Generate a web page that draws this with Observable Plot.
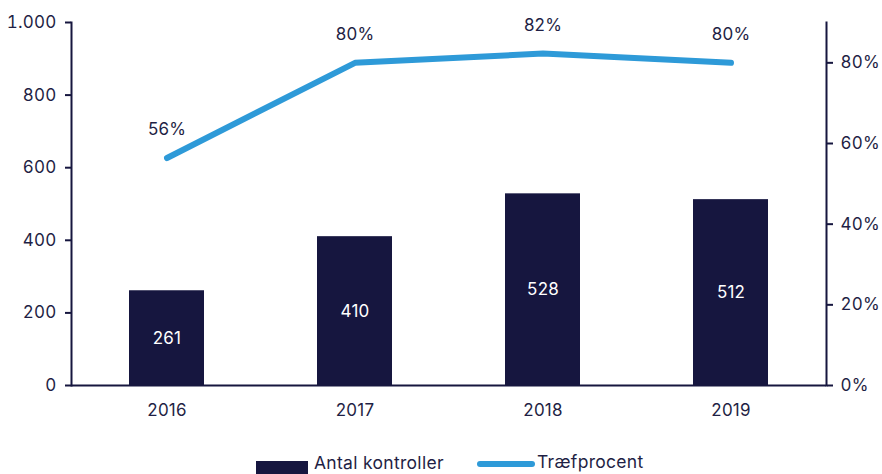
<!DOCTYPE html>
<html>
<head>
<meta charset="utf-8">
<script src="https://cdn.jsdelivr.net/npm/d3@7"></script>
<script src="https://cdn.jsdelivr.net/npm/@observablehq/plot@0.6"></script>
<style>
  html, body { margin: 0; padding: 0; background: #fff; }
  body { position: relative; width: 882px; height: 474px; overflow: hidden; font-family: Inter, "Noto Sans", sans-serif; color: #1f1f45; }
  #chart { position: absolute; left: 0; top: 0; }
  #legend { position: absolute; left: 0; top: 451px; width: 882px; height: 22px; font-size: 17.5px; letter-spacing: 0.3px; line-height: 22px; }
  .item { position: absolute; top: 0; display: flex; align-items: center; white-space: nowrap; }
  .sw-bar { width: 52px; height: 14px; background: #16163f; margin-right: 6px; margin-top: 10px; }
  .sw-line { width: 58px; height: 6px; border-radius: 3px; background: #2e9ad8; margin-right: 2px; margin-top: 4px; }
</style>
</head>
<body>
<div id="chart"></div>
<div id="legend"></div>
<script>
const years = ["2016", "2017", "2018", "2019"];
const kontroller = [261, 410, 528, 512];
const traefprocent = [0.564, 0.80, 0.823, 0.80];
const leftTicks = [0, 200, 400, 600, 800, 1000];
const rightTicks = [0, 0.2, 0.4, 0.6, 0.8];
const seriesNames = ["Antal kontroller", "Træfprocent"];

const leftMax = 1000, rightMax = 0.9;
const toLeft = v => v / rightMax * leftMax;

const barData = years.map((y, i) => ({year: y, value: kontroller[i]}));
const lineData = years.map((y, i) => ({year: y, pct: traefprocent[i], v: toLeft(traefprocent[i])}));

const navy = "#16163f";
const textCol = "#1f1f45";
const blue = "#2e9ad8";
const fmtThousand = d => d3.format(",")(d).replace(/,/g, ".");

const chart = Plot.plot({
  width: 882,
  height: 440,
  marginTop: 22,
  marginBottom: 55,
  marginLeft: 71,
  marginRight: 56,
  style: {fontFamily: "Inter, 'Noto Sans', sans-serif", fontSize: "17px", letterSpacing: "0.2px", color: textCol, background: "#fff"},
  x: {domain: years, paddingInner: 0.6, paddingOuter: 0.3, label: null},
  y: {domain: [0, leftMax], label: null},
  marks: [
    Plot.barY(barData, {x: "year", y: "value", fill: navy}),
    Plot.text(barData, {x: "year", y: d => d.value / 2, text: d => String(d.value), fill: "#ffffff", fontSize: 17}),
    Plot.line(lineData, {x: "year", y: "v", stroke: blue, strokeWidth: 6, strokeLinecap: "round", strokeLinejoin: "round"}),
    Plot.text(lineData, {x: "year", y: "v", text: d => Math.round(d.pct * 100) + "%", dy: -28, fill: textCol, fontSize: 17}),
    Plot.axisY(leftTicks, {anchor: "left", tickFormat: fmtThousand, tickSize: 6, tickPadding: 9, stroke: navy, strokeWidth: 2, fill: textCol, label: null}),
    Plot.axisY(rightTicks.map(toLeft), {anchor: "right", tickFormat: d => Math.round(d / leftMax * rightMax * 100) + "%", tickSize: 6, tickPadding: 8, stroke: navy, strokeWidth: 2, fill: textCol, label: null}),
    Plot.axisX({tickSize: 0, tickPadding: 18, fill: textCol, label: null}),
    Plot.ruleY([0], {stroke: navy, strokeWidth: 2}),
    Plot.frame({anchor: "left", stroke: navy, strokeWidth: 2}),
    Plot.frame({anchor: "right", stroke: navy, strokeWidth: 2})
  ]
});
document.getElementById("chart").appendChild(chart);

const legend = document.getElementById("legend");
legend.innerHTML = `
  <div class="item" style="left:256px"><div class="sw-bar"></div><span>${seriesNames[0]}</span></div>
  <div class="item" style="left:477px"><div class="sw-line"></div><span>${seriesNames[1]}</span></div>`;
</script>
</body>
</html>
